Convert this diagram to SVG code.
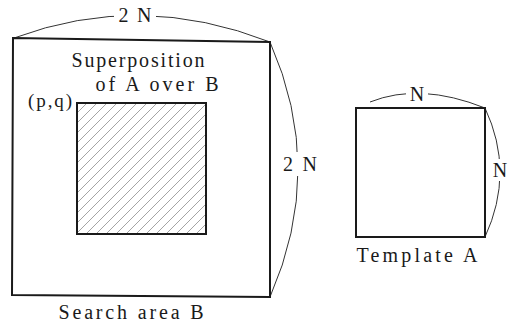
<svg xmlns="http://www.w3.org/2000/svg" width="510" height="329" viewBox="0 0 510 329">
<defs>
<pattern id="hatch" patternUnits="userSpaceOnUse" width="10" height="10">
<path d="M-1,1 L1,-1 M0,10 L10,0 M9,11 L11,9" stroke="#9a9a9a" stroke-width="0.9" fill="none"/>
</pattern>
<mask id="gaps" maskUnits="userSpaceOnUse" x="0" y="0" width="510" height="329">
<rect width="510" height="329" fill="#fff"/>
<rect x="114" y="4" width="42" height="22" fill="#000"/>
<rect x="280" y="152" width="40" height="24" fill="#000"/>
<rect x="406" y="84" width="22" height="20" fill="#000"/>
<rect x="491" y="159" width="18" height="22" fill="#000"/>
</mask>
</defs>
<style>
.box{fill:none;stroke:#1a1a1a;stroke-width:2}
.hatch{fill:url(#hatch);stroke:none}
.dim{fill:none;stroke:#333;stroke-width:1}
</style>
<rect width="510" height="329" fill="#fff"/>
<g id="connectors" mask="url(#gaps)">
<path class="dim" d="M14,38 Q140,-9 270,42"/>
<path class="dim" d="M270,42 Q326,169 270,297"/>
<path class="dim" d="M370,102 Q420,82 485,108"/>
<path class="dim" d="M485,108 Q515,172 485,237"/>
</g>
<g font-family="Liberation Serif, DejaVu Serif, Times New Roman, serif" font-size="20" fill="#1a1a1a">
<g id="search-area">
<polygon class="box" points="13,38 270,42 270,297 12,295"/>
<text x="131" y="319" text-anchor="middle" textLength="145" lengthAdjust="spacing">Search area B</text>
</g>
<g id="superposition">
<rect x="77" y="103" width="129" height="131" class="hatch"/>
<rect x="77" y="103" width="129" height="131" class="box"/>
<text x="138" y="67" text-anchor="middle" textLength="133" lengthAdjust="spacing">Superposition</text>
<text x="157" y="91" text-anchor="middle" textLength="123" lengthAdjust="spacing">of A over B</text>
<text x="50" y="107" text-anchor="middle" textLength="44" lengthAdjust="spacing" font-size="19">(p,q)</text>
</g>
<g id="template">
<rect x="356" y="108" width="129" height="129" class="box"/>
<text x="417" y="262" text-anchor="middle" textLength="121" lengthAdjust="spacing">Template A</text>
</g>
<g id="labels">
<text x="135" y="22" text-anchor="middle" textLength="33" lengthAdjust="spacing">2 N</text>
<text x="300" y="171" text-anchor="middle" textLength="34" lengthAdjust="spacing">2 N</text>
<text x="417" y="101" text-anchor="middle">N</text>
<text x="500" y="177" text-anchor="middle">N</text>
</g>
</g>
</svg>
